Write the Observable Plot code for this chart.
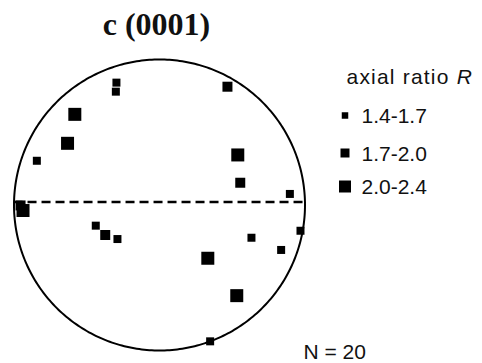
<!DOCTYPE html>
<html>
<head>
<meta charset="utf-8">
<script src="https://cdn.jsdelivr.net/npm/d3@7"></script>
<script src="https://cdn.jsdelivr.net/npm/@observablehq/plot@0.6"></script>
<style>
  html, body { margin: 0; padding: 0; background: #fff; }
  #chart { width: 482px; height: 363px; }
</style>
</head>
<body>
<div id="chart"></div>
<script>
// ---- data (normalized stereonet coordinates: east, north in unit circle) ----
const east  = [-0.296, -0.300, 0.467, -0.582, -0.632, -0.843, 0.538, 0.555, 0.896, -0.955, -0.938, -0.438, -0.373, -0.289, 0.969, 0.632, 0.836, 0.332, 0.531, 0.348];
const north = [ 0.841,  0.779, 0.813,  0.623,  0.424,  0.304, 0.344, 0.153, 0.076, -0.003, -0.038, -0.142, -0.206, -0.234, -0.177, -0.225, -0.309, -0.366, -0.623, -0.937];
const ratioClass = [0, 0, 1, 2, 2, 0, 2, 1, 0, 1, 2, 0, 1, 0, 0, 0, 0, 2, 2, 0];
const classLabels = ["1.4-1.7", "1.7-2.0", "2.0-2.4"];
const titleText = "c (0001)";
const countText = "N = " + east.length;
const traceNorth = 0.02; // dashed trace

const points = east.map((e, i) => ({e, n: north[i], c: ratioClass[i]}));

// ---- layout ----
const W = 482, H = 363;
const cx = 159, cy = 204.5, R = 145.5;          // circle centre / radius (px)
const toX = px => (px - cx) / R, toY = py => (cy - py) / R;
const pointSide = [8, 10, 13];
const legendSide = [6.5, 9, 12];
const sideToR = s => s / Math.sqrt(Math.PI);
const legendRowsY = [115, 152.5, 186];

const circle = d3.range(0, 361, 1).map(a => ({e: Math.cos(a * Math.PI / 180), n: Math.sin(a * Math.PI / 180)}));
const legendRows = classLabels.map((label, i) => ({label, c: i, e: toX(344.5), n: toY(legendRowsY[i]), te: toX(361), tn: toY(legendRowsY[i] + 1)}));

const font = "Liberation Sans, Arial, Helvetica, sans-serif";

const marks = [
  Plot.line(circle, {x: "e", y: "n", stroke: "black", strokeWidth: 2}),
  Plot.ruleY([traceNorth], {x1: -Math.sqrt(1 - traceNorth * traceNorth), x2: Math.sqrt(1 - traceNorth * traceNorth), stroke: "black", strokeWidth: 2.5, strokeDasharray: "9,5"})
];
[0, 1, 2].forEach(k => {
  marks.push(Plot.dot(points.filter(p => p.c === k), {x: "e", y: "n", symbol: "square", r: sideToR(pointSide[k]), fill: "black", stroke: "none"}));
  marks.push(Plot.dot(legendRows.filter(p => p.c === k), {x: "e", y: "n", symbol: "square", r: sideToR(legendSide[k]), fill: "black", stroke: "none"}));
});
marks.push(
  Plot.text(legendRows, {x: "te", y: "tn", text: "label", textAnchor: "start", fontSize: 21, fontFamily: font, fill: "#111"}),
  Plot.text(["axial ratio R"], {x: toX(346), y: toY(77), text: d => d, textAnchor: "start", fontSize: 21, fontFamily: font, fill: "#111", className: "legend-title"}),
  Plot.text([titleText], {x: toX(156), y: toY(24), text: d => d, textAnchor: "middle", fontSize: 32, fontWeight: "bold", fontFamily: "Liberation Serif, Times New Roman, serif", fill: "#111"}),
  Plot.text([countText], {x: toX(303), y: toY(352), text: d => d, textAnchor: "start", fontSize: 21, fontFamily: font, fill: "#111"})
);

const chart = Plot.plot({
  width: W, height: H,
  margin: 0,
  x: {domain: [toX(0), toX(W)], axis: null},
  y: {domain: [toY(H), toY(0)], axis: null},
  style: {background: "white", overflow: "visible"},
  marks
});
document.getElementById("chart").appendChild(chart);

// italic R in legend title
chart.querySelectorAll(".legend-title text").forEach(t => {
  t.textContent = "axial ratio ";
  t.setAttribute("letter-spacing", "1.2");
  const ts = document.createElementNS("http://www.w3.org/2000/svg", "tspan");
  ts.setAttribute("font-style", "italic");
  ts.textContent = "R";
  t.appendChild(ts);
});
</script>
</body>
</html>
